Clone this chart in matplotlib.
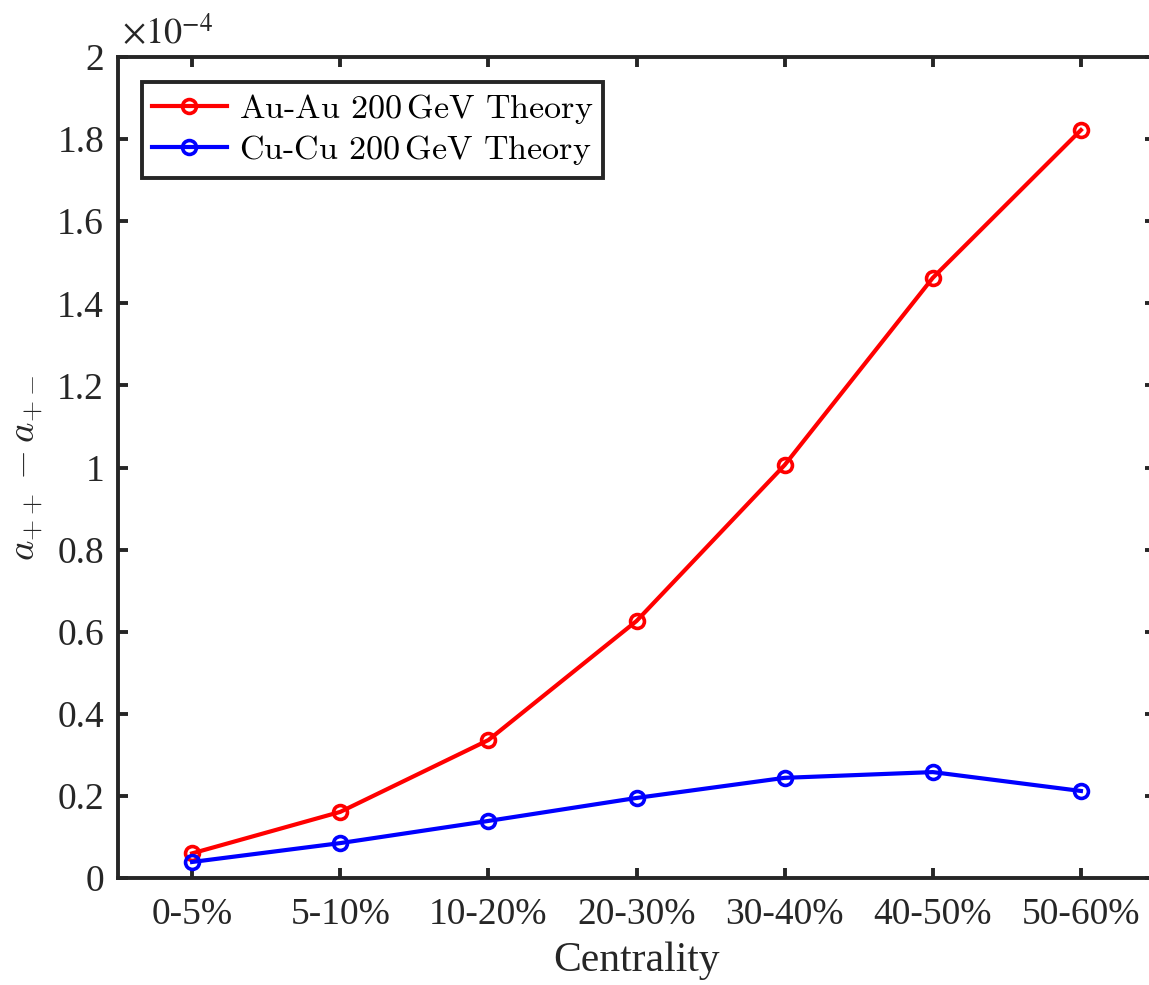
import matplotlib
matplotlib.use("Agg")
import matplotlib.pyplot as plt
from matplotlib.ticker import FuncFormatter

# centrality classes and a_{++} - a_{+-} (in units of 1e-4)
centrality = ["0-5%", "5-10%", "10-20%", "20-30%", "30-40%", "40-50%", "50-60%"]
auau = [0.060, 0.161, 0.336, 0.626, 1.006, 1.462, 1.822]
cucu = [0.039, 0.085, 0.139, 0.195, 0.244, 0.258, 0.212]
yticks = [0, 0.2, 0.4, 0.6, 0.8, 1.0, 1.2, 1.4, 1.6, 1.8, 2.0]

dark = "#262626"
plt.rcParams["font.family"] = ["Liberation Serif", "DejaVu Serif"]
plt.rcParams["mathtext.fontset"] = "cm"

fig = plt.figure(figsize=(11.49, 9.85), dpi=100)
ax = fig.add_axes([118/1149, 107/985, 1037/1149, 821/985])

x = list(range(1, len(centrality) + 1))
ax.plot(x, auau, "-o", color="red", lw=3, ms=10, mew=2.6, mfc="none",
        label=r"Au-Au 200$\,$GeV Theory")
ax.plot(x, cucu, "-o", color="blue", lw=3, ms=10, mew=2.6, mfc="none",
        label=r"Cu-Cu 200$\,$GeV Theory")

ax.set_xlim(0.5, 7.5)
ax.set_ylim(0, 2)
ax.set_xticks(x)
ax.set_xticklabels(centrality)
ax.set_yticks(yticks)
ax.yaxis.set_major_formatter(FuncFormatter(lambda v, p: "%g" % v))

for s in ax.spines.values():
    s.set_linewidth(2.8)
    s.set_color(dark)
ax.tick_params(direction="in", length=7, width=2.8, color=dark,
               labelcolor=dark, labelsize=27, top=True, right=True)
ax.tick_params(axis="x", pad=14)
ax.tick_params(axis="y", pad=10)

ax.set_xlabel("Centrality", fontsize=30, color=dark, labelpad=7)
ax.set_ylabel(r"$a_{++} - a_{+-}$", fontsize=28, color=dark, labelpad=8)

ax.text(0.004, 1.005, r"$\times10^{-4}$", transform=ax.transAxes,
        fontsize=26, color=dark, math_fontfamily="stix", va="bottom", ha="left")

leg = ax.legend(loc="upper left", bbox_to_anchor=(0.023, 0.97), fancybox=False,
                framealpha=1, edgecolor=dark, handlelength=2.2, handletextpad=0.35,
                borderpad=0.3, labelspacing=0.22, borderaxespad=0,
                prop={"family": "cmr10", "size": 24.5})
leg.get_frame().set_linewidth(2.8)

fig.savefig("out.png", dpi=100, facecolor="white")
